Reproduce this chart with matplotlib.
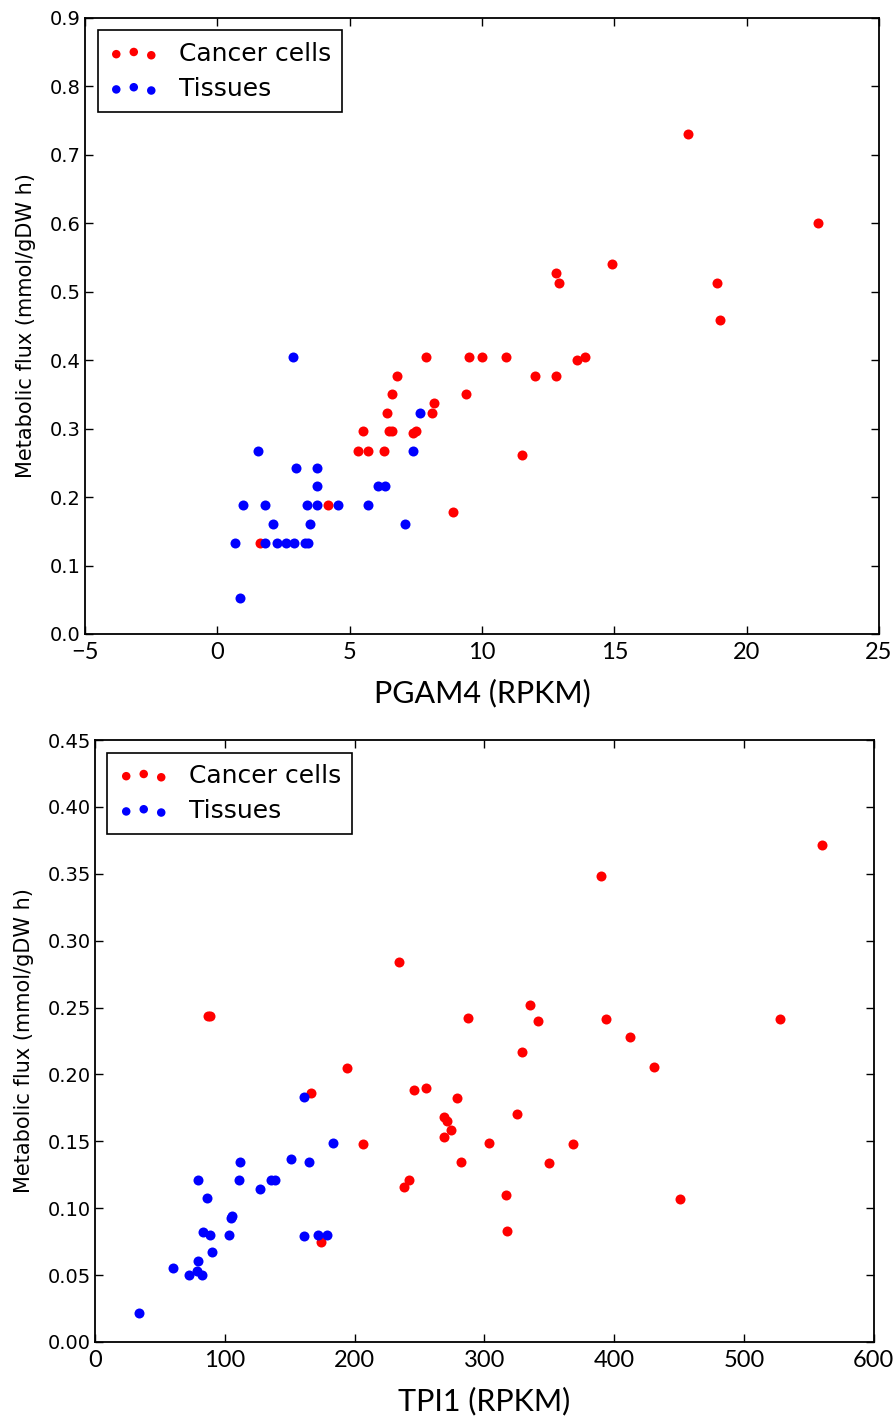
# scatter plots of metabolic flux vs. gene expression (PGAM4, TPI1)
import matplotlib
matplotlib.use('Agg')
import matplotlib.pyplot as plt

# --- data ---
pgam4_cancer_x = [1.6, 4.2, 8.9, 5.3, 5.7, 6.3, 11.5, 5.5, 6.5, 6.6, 7.4, 7.5, 6.4, 8.1, 8.2, 6.6,
                  9.4, 6.8, 12.0, 12.8, 7.9, 9.5, 10.0, 10.9, 13.6, 13.9, 12.8, 12.9, 14.9, 17.8,
                  18.9, 19.0, 22.7]
pgam4_cancer_y = [0.133, 0.188, 0.178, 0.268, 0.268, 0.268, 0.261, 0.296, 0.296, 0.296, 0.294,
                  0.296, 0.323, 0.323, 0.338, 0.351, 0.351, 0.377, 0.377, 0.377, 0.404, 0.404,
                  0.404, 0.404, 0.400, 0.404, 0.528, 0.513, 0.541, 0.730, 0.513, 0.458, 0.601]

pgam4_tissue_x = [2.86, 1.55, 2.96, 3.78, 3.78, 0.97, 1.80, 3.39, 3.78, 4.57, 5.68, 2.09, 3.49,
                  0.67, 1.80, 2.27, 2.58, 2.88, 3.30, 3.41, 0.86, 7.38, 7.66, 6.08, 6.33, 7.09]
pgam4_tissue_y = [0.404, 0.268, 0.243, 0.243, 0.216, 0.188, 0.188, 0.188, 0.188, 0.188, 0.188,
                  0.161, 0.161, 0.133, 0.133, 0.133, 0.133, 0.133, 0.133, 0.133, 0.052, 0.268,
                  0.323, 0.216, 0.216, 0.161]

tpi1_cancer_x = [86.8, 89.0, 194.4, 166.7, 174.4, 234.1, 335.6, 287.4, 341.5, 393.6, 412.0, 329.0,
                 430.5, 245.9, 255.4, 278.7, 268.7, 271.0, 274.1, 325.1, 268.7, 206.2, 303.8,
                 368.5, 281.8, 350.0, 242.1, 238.2, 316.4, 450.8, 317.5, 389.7, 560.0, 527.9]
tpi1_cancer_y = [0.2436, 0.2436, 0.205, 0.186, 0.0744, 0.2839, 0.252, 0.2425, 0.2398, 0.2415,
                 0.2283, 0.2171, 0.2059, 0.1883, 0.190, 0.1823, 0.1685, 0.1655, 0.1588, 0.1703,
                 0.1534, 0.1479, 0.1486, 0.1479, 0.1347, 0.1337, 0.1207, 0.1158, 0.110, 0.1065,
                 0.0829, 0.3487, 0.3714, 0.2415]

tpi1_tissue_x = [160.8, 183.3, 111.5, 151.0, 164.6, 79.2, 110.8, 135.4, 139.0, 126.9, 86.2, 104.9,
                 105.9, 83.3, 88.7, 103.1, 160.8, 172.0, 178.5, 90.3, 60.3, 79.5, 72.8, 78.5,
                 82.1, 34.1]
tpi1_tissue_y = [0.183, 0.149, 0.1347, 0.1364, 0.1347, 0.1207, 0.1207, 0.1207, 0.1207, 0.114,
                 0.1073, 0.093, 0.0943, 0.0819, 0.080, 0.080, 0.0794, 0.080, 0.080, 0.0672,
                 0.055, 0.0607, 0.050, 0.0532, 0.050, 0.0218]

narrow = ['Lato', 'DejaVu Sans']
plain = ['DejaVu Sans']

fig = plt.figure(figsize=(8.96, 14.16), dpi=100)


def scatter_panel(rect, cx, cy, tx, ty, xlim, ylim, xticks, yticks, yfmt, xlabel):
    ax = fig.add_axes(rect)
    ax.scatter(cx, cy, s=52, c='#ff0000', linewidths=0, label='Cancer cells')
    ax.scatter(tx, ty, s=52, c='#0000ff', linewidths=0, label='Tissues')

    ax.set_xlim(*xlim)
    ax.set_ylim(*ylim)
    ax.set_xticks(xticks)
    ax.set_yticks(yticks)
    ax.set_xticklabels([f'{v:g}'.replace('-', '\u2212') for v in xticks], family=narrow, fontsize=17)
    ax.set_yticklabels([yfmt.format(v) for v in yticks], family=plain, fontsize=14)
    ax.tick_params(direction='in', length=6, width=1, top=True, right=True)
    ax.tick_params(axis='x', pad=6)
    ax.tick_params(axis='y', pad=3)
    for sp in ax.spines.values():
        sp.set_linewidth(1.3)

    ax.set_xlabel(xlabel, family=narrow, fontsize=22, labelpad=11)
    ax.set_ylabel('Metabolic flux (mmol/gDW h)', family=plain, fontsize=15, labelpad=10)

    leg = ax.legend(loc='upper left', scatterpoints=3, scatteryoffsets=[0.375, 0.5, 0.3125],
                    fancybox=False, framealpha=1, edgecolor='black', markerscale=0.85,
                    prop={'family': 'DejaVu Sans', 'size': 18}, handlelength=2.0,
                    handletextpad=0.8, borderpad=0.45, labelspacing=0.45, borderaxespad=0.5)
    leg.get_frame().set_linewidth(1.2)
    return ax


scatter_panel([0.0949, 0.5523, 0.886, 0.435],
              pgam4_cancer_x, pgam4_cancer_y, pgam4_tissue_x, pgam4_tissue_y,
              (-5, 25), (0, 0.9), [-5, 0, 5, 10, 15, 20, 25],
              [0.0, 0.1, 0.2, 0.3, 0.4, 0.5, 0.6, 0.7, 0.8, 0.9], '{:.1f}', 'PGAM4 (RPKM)')

scatter_panel([0.106, 0.0523, 0.869, 0.4251],
              tpi1_cancer_x, tpi1_cancer_y, tpi1_tissue_x, tpi1_tissue_y,
              (0, 600), (0, 0.45), [0, 100, 200, 300, 400, 500, 600],
              [0.0, 0.05, 0.1, 0.15, 0.2, 0.25, 0.3, 0.35, 0.4, 0.45], '{:.2f}', 'TPI1 (RPKM)')

fig.savefig('out.png', dpi=100)
